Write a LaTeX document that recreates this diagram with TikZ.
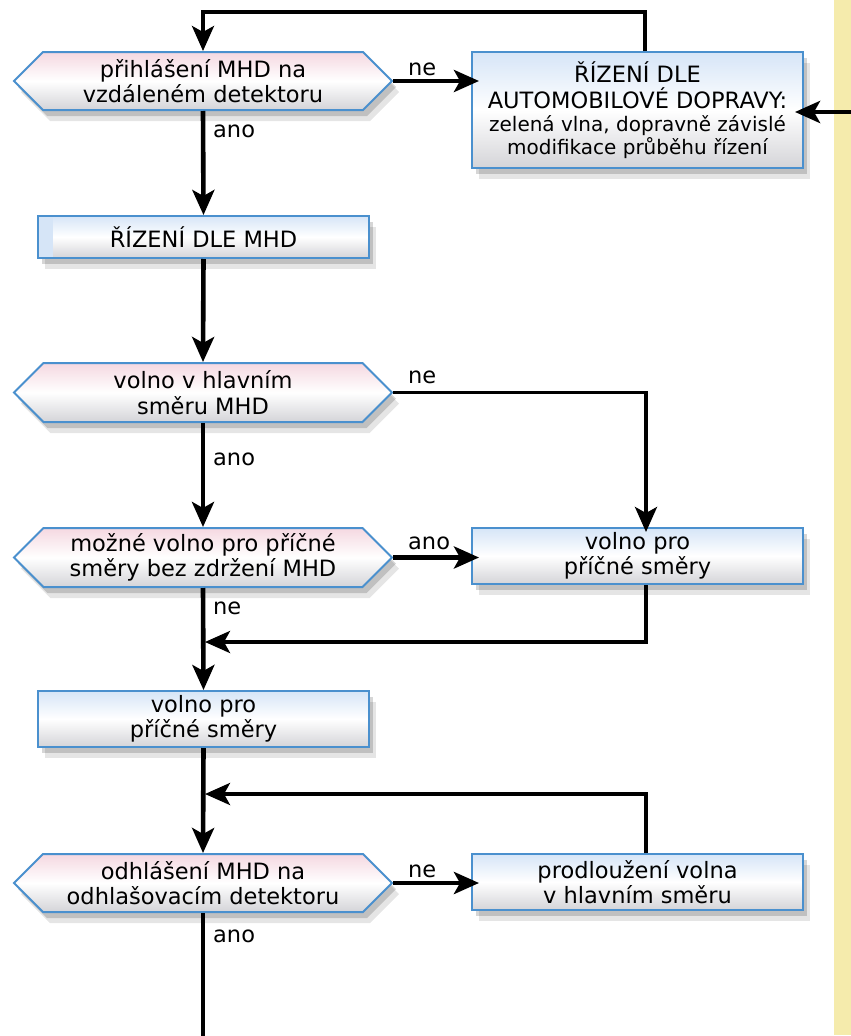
\documentclass[tikz,border=0pt]{standalone}
\usepackage{fontspec}
\setmainfont{DejaVu Sans}
\usetikzlibrary{arrows.meta,shapes.symbols,shadows,calc}
\definecolor{bordercol}{RGB}{74,144,206}
\definecolor{hexpink}{RGB}{245,216,225}
\definecolor{boxblue}{RGB}{214,229,247}
\definecolor{botgray}{RGB}{212,212,216}
\definecolor{bandyellow}{RGB}{245,235,172}
\tikzset{
  mainfont/.style={font=\fontsize{22.5}{25.5}\selectfont},
  base/.style={draw=bordercol, line width=2pt, align=center, inner sep=0pt, mainfont,
    drop shadow={shadow xshift=4pt, shadow yshift=-6pt, opacity=0.16, fill=black},
    drop shadow={shadow xshift=7pt, shadow yshift=-11pt, opacity=0.10, fill=black}},
  hexbox/.style={base, signal, signal to=east and west, signal pointer angle=90,
    top color=hexpink, bottom color=botgray, middle color=white,
    minimum width=378pt, minimum height=58pt},
  procbox/.style={base, rectangle, top color=boxblue, bottom color=botgray, middle color=white,
    minimum width=331pt, minimum height=56pt},
  conn/.style={line width=4.6pt, -{Stealth[length=25pt,width=22pt,inset=6pt]}},
  loopconn/.style={line width=3.8pt, -{Stealth[length=25pt,width=22pt,inset=6pt]}},
  lab/.style={mainfont, anchor=base west, inner sep=0pt},
}
\begin{document}
\begin{tikzpicture}[x=1pt,y=-1pt]
\useasboundingbox (0,0) rectangle (851,1036);
\fill[white] (0,0) rectangle (851,1036);
\fill[bandyellow] (834,0) rectangle (851,1035);

% nodes
\node[hexbox] (h1) at (203,81) {přihlášení MHD na\\vzdáleném detektoru};
\node[procbox, minimum height=116pt] (b2) at (637.5,110)
  {ŘÍZENÍ DLE\\AUTOMOBILOVÉ DOPRAVY:\\[-2pt]{\fontsize{20}{23}\selectfont zelená vlna, dopravně závislé}\\[-3pt]{\fontsize{20}{23}\selectfont modifikace průběhu řízení}};
\node[procbox, minimum height=42pt,
  path picture={\fill[boxblue] (path picture bounding box.north west) rectangle ([xshift=15pt]path picture bounding box.south west);}]
  (b3) at (203.5,237) {ŘÍZENÍ DLE MHD};
\node[hexbox, minimum height=59pt] (h2) at (203,392.5) {volno v hlavním\\směru MHD};
\node[procbox] (b4) at (637.5,556) {volno pro\\příčné směry};
\node[hexbox, minimum height=59pt] (h3) at (203,557.5) {možné volno pro příčné\\směry bez zdržení MHD};
\node[procbox] (b5) at (203.5,719) {volno pro\\příčné směry};
\node[hexbox] (h4) at (203,883) {odhlášení MHD na\\odhlašovacím detektoru};
\node[procbox] (b6) at (637.5,882) {prodloužení volna\\v hlavním směru};

% helper coordinates
\coordinate (rin) at (851,112);
\coordinate (j1) at (205,642);
\coordinate (j2) at (205,794);
\coordinate (bot) at (203,1040);

% connectors
\draw[loopconn] ([xshift=7.5pt]b2.north) |- ($(h1.north)+(0,-39)$) -- (h1.north);
\draw[conn, shorten >=-8pt] (h1.east) -- (h1.east -| b2.west);
\draw[conn, shorten >=-9pt] (rin) -- (rin -| b2.east);
\draw[conn] (h1.south) -- (b3.north);
\draw[conn] (b3.south) -- (h2.north);
\draw[loopconn, shorten >=-5pt] (h2.east) -| ([xshift=8.5pt]b4.north);
\draw[conn] (h2.south) -- (h3.north);
\draw[conn, shorten >=-8pt] (h3.east) -- (h3.east -| b4.west);
\draw[conn] (h3.south) -- (b5.north);
\draw[loopconn] ([xshift=8.5pt]b4.south) |- (j1);
\draw[conn] (b5.south) -- (h4.north);
\draw[loopconn] ([xshift=8.5pt]b6.north) |- (j2);
\draw[conn, shorten >=-8pt] (h4.east) -- (h4.east -| b6.west);
\draw[line width=4.6pt] (h4.south) -- (bot);

% labels
\node[lab] (l1) at (213,137) {ano};
\node[lab] (l2) at (408,75) {ne};
\node[lab] (l3) at (408,383) {ne};
\node[lab] (l4) at (213,465) {ano};
\node[lab] (l5) at (408,549) {ano};
\node[lab] (l6) at (213,614) {ne};
\node[lab] (l7) at (408,877) {ne};
\node[lab] (l8) at (213,942) {ano};
\end{tikzpicture}
\end{document}
